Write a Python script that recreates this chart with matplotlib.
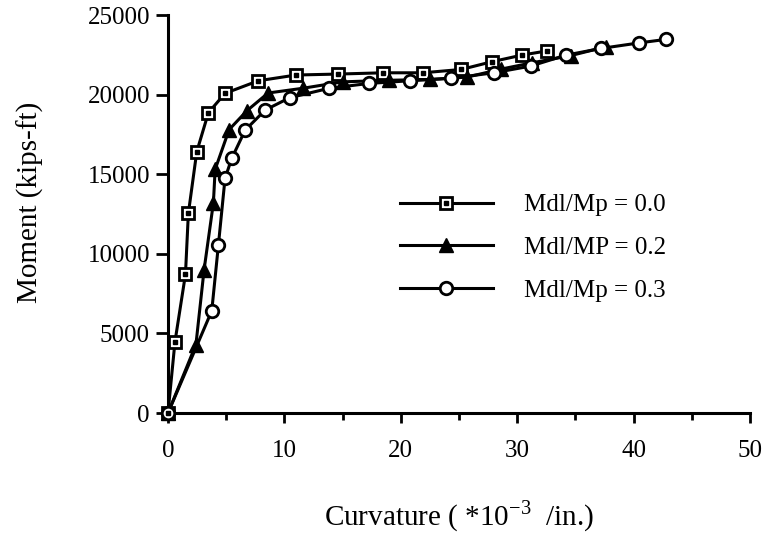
import matplotlib
matplotlib.use("Agg")
import matplotlib.pyplot as plt
from matplotlib.ticker import MultipleLocator

# Mdl/Mp = 0.0 (squares)
x_sq = [0, 0.6, 1.5, 1.75, 2.47, 3.47, 4.9, 7.77, 11.0, 14.6, 18.5, 21.9, 25.2, 27.8, 30.4, 32.6]
y_sq = [0, 4480, 8710, 12540, 16410, 18860, 20080, 20870, 21230, 21290, 21370, 21370, 21580, 22060, 22480, 22750]

# Mdl/MP = 0.2 (filled triangles)
x_tr = [0, 2.4, 3.1, 3.9, 4.05, 5.25, 6.8, 8.6, 11.6, 15.0, 19.0, 22.5, 25.7, 28.6, 31.3, 34.6, 37.6]
y_tr = [0, 4300, 9000, 13200, 15300, 17800, 19000, 20100, 20400, 20800, 20900, 20950, 21100, 21600, 22000, 22450, 23000]

# Mdl/Mp = 0.3 (open circles)
x_ci = [0, 3.76, 4.33, 4.9, 5.48, 6.63, 8.35, 10.44, 13.8, 17.24, 20.77, 24.27, 28.0, 31.15, 34.2, 37.2, 40.5, 42.8]
y_ci = [0, 6420, 10550, 14740, 16000, 17770, 19030, 19800, 20390, 20700, 20870, 21020, 21370, 21790, 22480, 22900, 23250, 23470]

labels = ["Mdl/Mp = 0.0", "Mdl/MP = 0.2", "Mdl/Mp = 0.3"]
x_ticks = [0, 10, 20, 30, 40, 50]
y_ticks = [0, 5000, 10000, 15000, 20000, 25000]

plt.rcParams['font.family'] = ['Liberation Serif', 'DejaVu Serif']
plt.rcParams['mathtext.fontset'] = 'custom'
plt.rcParams['mathtext.rm'] = 'Liberation Serif'

fig = plt.figure(figsize=(7.64, 5.35), dpi=100)
ax = fig.add_axes([168/764, 1-413/535, (750-168)/764, (413-15)/535])

lw = 2.2
l1, = ax.plot(x_sq, y_sq, color='black', lw=lw, marker='s', ms=9, mfc='white',
              mec='black', mew=2, clip_on=False, zorder=3)
d1, = ax.plot(x_sq, y_sq, ls='none', marker='s', ms=3, mfc='black', mec='black',
              clip_on=False, zorder=4)
l2, = ax.plot(x_tr, y_tr, color='black', lw=lw, marker='^', ms=10, mfc='black',
              mec='black', clip_on=False, zorder=3)
l3, = ax.plot(x_ci, y_ci, color='black', lw=lw, marker='o', ms=9, mfc='white',
              mec='black', mew=2, clip_on=False, zorder=3)

ax.set_xlim(0, 50)
ax.set_ylim(0, 25000)
ax.set_xticks(x_ticks)
ax.set_yticks(y_ticks)
ax.xaxis.set_minor_locator(MultipleLocator(5))
ax.tick_params(axis='both', which='major', direction='out', width=2,
               labelsize=18, colors='black')
ax.tick_params(axis='x', which='major', length=7.5, pad=12)
ax.tick_params(axis='x', which='minor', direction='out', length=5, width=2)
ax.tick_params(axis='y', which='major', length=9, pad=4)

for s in ['top', 'right']:
    ax.spines[s].set_visible(False)
for s in ['left', 'bottom']:
    ax.spines[s].set_linewidth(2.2)

ax.set_xlabel(r"Curvature ( *10$^{\mathregular{-3}}$  /in.)", fontsize=21, labelpad=26)
ax.set_ylabel("Moment (kips-ft)", fontsize=21)
ax.yaxis.set_label_coords(44/764, 1-202/535, transform=fig.transFigure)

leg = ax.legend([(l1, d1), l2, l3], labels, loc='upper left',
                bbox_to_anchor=((400-168)/582, (413-194)/398),
                frameon=False, fontsize=18, handlelength=3.7,
                handletextpad=1.25, labelspacing=0.8, borderpad=0,
                borderaxespad=0)

fig.savefig("out.png", dpi=100)
